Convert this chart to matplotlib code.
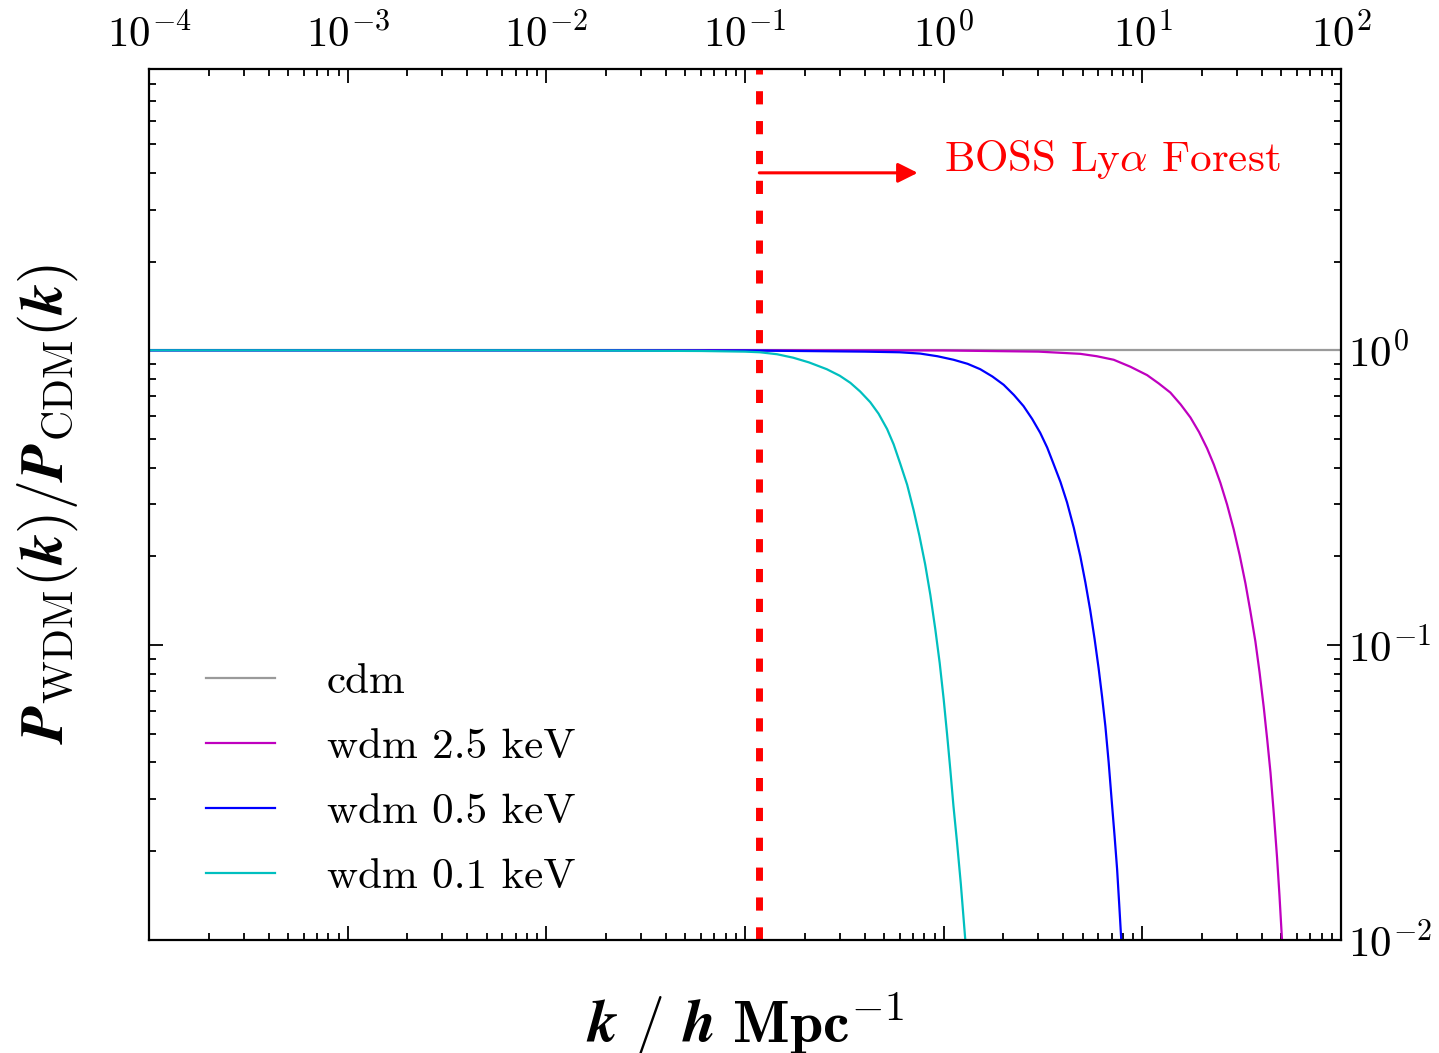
import matplotlib
matplotlib.use('Agg')
import matplotlib.pyplot as plt
from matplotlib.patches import FancyArrowPatch

# ratio P_WDM(k)/P_CDM(k), values
k_cdm = [1e-4, 1e2]
r_cdm = [1.0, 1.0]

k_25 = [1e-4, 0.1, 1.0, 3.0, 4.875, 5.9, 7.178, 8.7, 10.57, 12.1, 13.84,
        15.6, 17.46, 19.3, 21.18, 22.9, 24.72, 26.7, 28.84, 30.9, 33.04,
        35.0, 37.07, 38.9, 40.83, 42.5, 44.16, 45.9, 47.64, 49.0, 50.47, 51.3]
r_25 = [1.0, 1.0, 0.999, 0.99, 0.973, 0.955, 0.929, 0.88, 0.824, 0.772, 0.719,
        0.655, 0.592, 0.528, 0.465, 0.41, 0.355, 0.30, 0.247, 0.202, 0.162,
        0.13, 0.103, 0.081, 0.0617, 0.048, 0.0370, 0.0268, 0.0191, 0.0142,
        0.010, 0.008]

k_05 = [1e-4, 0.01, 0.1, 0.4, 0.6, 0.762, 0.93, 1.122, 1.32, 1.528, 1.76,
        2.005, 2.26, 2.523, 2.79, 3.062, 3.32, 3.573, 3.87, 4.178, 4.52,
        4.875, 5.17, 5.47, 5.75, 6.026, 6.27, 6.516, 6.77, 7.031, 7.25, 7.464,
        7.65, 7.834, 7.97]
r_05 = [1.0, 1.0, 0.999, 0.99, 0.985, 0.975, 0.955, 0.929, 0.90, 0.863, 0.815,
        0.764, 0.705, 0.647, 0.585, 0.525, 0.468, 0.412, 0.358, 0.305, 0.25,
        0.200, 0.163, 0.131, 0.105, 0.0834, 0.067, 0.0531, 0.040, 0.0290,
        0.0225, 0.0174, 0.0132, 0.010, 0.008]

k_01 = [1e-4, 0.01, 0.06, 0.10, 0.119, 0.145, 0.175, 0.21, 0.258, 0.30, 0.339,
        0.38, 0.427, 0.47, 0.519, 0.56, 0.605, 0.655, 0.706, 0.755, 0.807,
        0.857, 0.908, 0.955, 1.0, 1.04, 1.079, 1.12, 1.167, 1.22, 1.285, 1.31]
r_01 = [1.0, 1.0, 0.995, 0.99, 0.985, 0.97, 0.944, 0.91, 0.863, 0.82, 0.776,
        0.725, 0.667, 0.61, 0.541, 0.48, 0.412, 0.35, 0.287, 0.235, 0.188,
        0.148, 0.113, 0.087, 0.0656, 0.050, 0.0381, 0.0285, 0.0215, 0.0155,
        0.010, 0.008]

labels = ['cdm', 'wdm 2.5 keV', 'wdm 0.5 keV', 'wdm 0.1 keV']
colors = ['#9a9a9a', 'm', 'b', 'c']

k_boss = 0.118  # BOSS Lya forest lower limit


def main():
    plt.rcParams['font.family'] = 'serif'
    plt.rcParams['font.serif'] = ['cmr10']
    plt.rcParams['mathtext.fontset'] = 'cm'
    plt.rcParams['axes.formatter.use_mathtext'] = True
    plt.rcParams['axes.unicode_minus'] = False

    fig = plt.figure(figsize=(14.39, 10.53), dpi=100)
    ax = fig.add_axes([149 / 1439, 1 - 940 / 1053, 1192 / 1439, 871 / 1053])

    series = [(k_cdm, r_cdm), (k_25, r_25), (k_05, r_05), (k_01, r_01)]
    for (k, r), lab, col in zip(series, labels, colors):
        ax.plot(k, r, color=col, lw=1.6, label=lab)

    ax.set_xscale('log')
    ax.set_yscale('log')
    ax.set_xlim(1e-4, 1e2)
    ax.set_ylim(1e-2, 9)

    ax.axvline(k_boss, color='red', lw=5, dashes=(1.9, 2.4))
    arrow = FancyArrowPatch((k_boss, 4.0), (0.74, 4.0), arrowstyle='-|>',
                            color='red', lw=2.2, mutation_scale=30,
                            shrinkA=0, shrinkB=0)
    ax.add_patch(arrow)
    ax.text(1.0, 4.44, r'BOSS Ly$\alpha$ Forest', color='red', fontsize=31,
            va='center', ha='left')

    for s in ax.spines.values():
        s.set_linewidth(1.6)
    ax.tick_params(which='both', direction='in', top=True, bottom=True,
                   left=True, right=True, labeltop=True, labelbottom=False,
                   labelleft=False, labelright=True, labelsize=31, width=1.3)
    ax.tick_params(which='major', length=10)
    ax.tick_params(which='minor', length=5)
    ax.tick_params(axis='x', which='major', pad=10)
    ax.tick_params(axis='y', which='major', pad=5)

    ax.set_xlabel(r'$\boldsymbol{k}\ \boldsymbol{/}\ \boldsymbol{h}\ \mathbf{Mpc}^{-1}$',
                  fontsize=43)
    ax.xaxis.set_label_position('bottom')
    ax.xaxis.set_label_coords(0.5, -0.058)
    ax.set_ylabel(r'$\boldsymbol{P}_{\mathrm{WDM}}\boldsymbol{(k)/P}_{\mathrm{CDM}}\boldsymbol{(k)}$',
                  fontsize=43)
    ax.yaxis.set_label_position('left')
    ax.yaxis.set_label_coords(-0.058, 0.5)

    ax.legend(loc='upper left', bbox_to_anchor=(0.048, 0.318), frameon=False,
              fontsize=31, handlelength=1.6, handletextpad=1.2,
              labelspacing=0.62, borderaxespad=0, borderpad=0)

    fig.savefig('out.png', dpi=100)


if __name__ == "__main__":
    main()
